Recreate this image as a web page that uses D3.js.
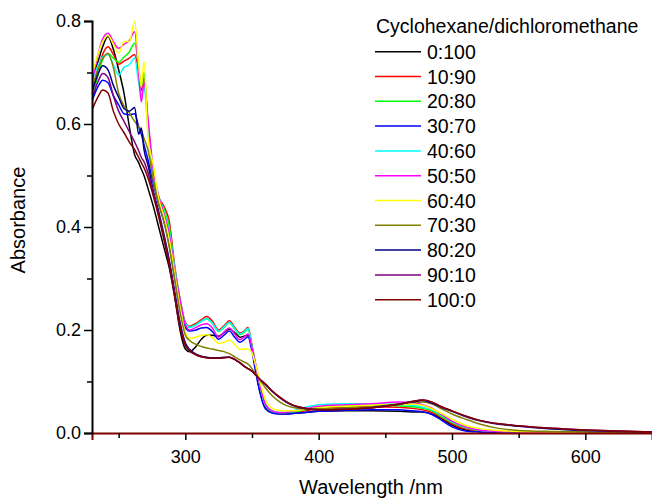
<!DOCTYPE html>
<html>
<head>
<meta charset="utf-8">
<script src="https://cdn.jsdelivr.net/npm/d3@7"></script>
<style>
  body { margin: 0; background: #fff; }
  text { font-family: "Liberation Sans", Arial, sans-serif; fill: #000; }
</style>
</head>
<body>
<div id="chart"></div>
<script>
// wavelengths (nm), shared by every series
const wavelengths = [230, 235, 238, 242, 246, 250, 254, 258, 262, 265, 267, 269, 272, 276, 280, 284, 288, 292, 296, 300,
  303, 308, 312, 316, 320, 325, 329, 333, 337, 341, 344, 347, 350, 353, 356, 360, 365, 370, 375, 380,
  390, 400, 420, 440, 460, 470, 478, 485, 492, 500, 510, 520, 535, 550, 575, 600, 625, 650];

// cyclohexane/dichloromethane ratios
const ratios = ["0:100", "10:90", "20:80", "30:70", "40:60", "50:50", "60:40", "70:30", "80:20", "90:10", "100:0"];
const colors = ["#000000", "#ff0000", "#00ff00", "#0000ff", "#00ffff", "#ff00ff", "#ffff00", "#808000", "#000080", "#800080", "#800000"];

// absorbance
const abs_0_100 = [0.690, 0.725, 0.750, 0.770, 0.745, 0.705, 0.660, 0.595, 0.540, 0.525, 0.512, 0.500, 0.475, 0.440, 0.400, 0.360, 0.320, 0.265, 0.200, 0.163,
  0.158, 0.168, 0.182, 0.190, 0.190, 0.188, 0.195, 0.202, 0.195, 0.186, 0.188, 0.190, 0.165, 0.120, 0.080, 0.050, 0.040, 0.038, 0.037, 0.038,
  0.040, 0.042, 0.043, 0.043, 0.042, 0.041, 0.041, 0.037, 0.028, 0.015, 0.006, 0.003, 0.002, 0.001, 0.001, 0.001, 0.001, 0.001];
const abs_10_90 = [0.665, 0.710, 0.735, 0.750, 0.735, 0.716, 0.722, 0.728, 0.735, 0.700, 0.665, 0.690, 0.600, 0.500, 0.458, 0.440, 0.410, 0.325, 0.260, 0.215,
  0.207, 0.213, 0.220, 0.226, 0.218, 0.200, 0.208, 0.218, 0.205, 0.194, 0.198, 0.205, 0.170, 0.130, 0.095, 0.055, 0.042, 0.038, 0.037, 0.039,
  0.043, 0.047, 0.050, 0.051, 0.050, 0.048, 0.045, 0.040, 0.030, 0.018, 0.008, 0.004, 0.002, 0.001, 0.001, 0.001, 0.001, 0.001];
const abs_20_80 = [0.640, 0.700, 0.725, 0.737, 0.728, 0.720, 0.730, 0.740, 0.757, 0.710, 0.672, 0.700, 0.600, 0.500, 0.455, 0.435, 0.400, 0.320, 0.255, 0.212,
  0.205, 0.210, 0.217, 0.222, 0.214, 0.197, 0.205, 0.214, 0.202, 0.191, 0.195, 0.202, 0.168, 0.125, 0.090, 0.053, 0.041, 0.038, 0.038, 0.040,
  0.045, 0.050, 0.053, 0.054, 0.053, 0.051, 0.048, 0.043, 0.032, 0.020, 0.010, 0.005, 0.003, 0.002, 0.001, 0.001, 0.001, 0.001];
const abs_30_70 = [0.645, 0.675, 0.685, 0.680, 0.655, 0.637, 0.620, 0.618, 0.620, 0.595, 0.580, 0.560, 0.530, 0.485, 0.445, 0.410, 0.365, 0.300, 0.240, 0.205,
  0.198, 0.200, 0.204, 0.205, 0.198, 0.182, 0.190, 0.198, 0.186, 0.176, 0.181, 0.187, 0.158, 0.115, 0.078, 0.047, 0.039, 0.037, 0.037, 0.038,
  0.040, 0.042, 0.044, 0.045, 0.045, 0.043, 0.041, 0.036, 0.025, 0.012, 0.004, 0.002, 0.001, 0.001, 0.001, 0.001, 0.001, 0.001];
const abs_40_60 = [0.685, 0.715, 0.730, 0.735, 0.715, 0.695, 0.710, 0.715, 0.728, 0.680, 0.656, 0.670, 0.590, 0.505, 0.460, 0.430, 0.390, 0.320, 0.260, 0.213,
  0.205, 0.210, 0.217, 0.222, 0.214, 0.198, 0.206, 0.215, 0.203, 0.192, 0.197, 0.203, 0.168, 0.128, 0.092, 0.055, 0.043, 0.040, 0.040, 0.043,
  0.050, 0.055, 0.057, 0.057, 0.056, 0.054, 0.050, 0.045, 0.035, 0.022, 0.011, 0.006, 0.003, 0.002, 0.001, 0.001, 0.001, 0.001];
const abs_50_50 = [0.680, 0.740, 0.765, 0.776, 0.760, 0.747, 0.755, 0.762, 0.779, 0.700, 0.643, 0.680, 0.610, 0.510, 0.460, 0.425, 0.385, 0.315, 0.260, 0.210,
  0.200, 0.205, 0.210, 0.212, 0.205, 0.186, 0.196, 0.204, 0.192, 0.181, 0.186, 0.192, 0.165, 0.128, 0.092, 0.056, 0.043, 0.040, 0.040, 0.042,
  0.047, 0.052, 0.055, 0.057, 0.060, 0.059, 0.055, 0.048, 0.036, 0.023, 0.012, 0.006, 0.003, 0.002, 0.001, 0.001, 0.001, 0.001];
const abs_60_40 = [0.695, 0.740, 0.760, 0.772, 0.755, 0.738, 0.760, 0.760, 0.799, 0.715, 0.672, 0.722, 0.575, 0.520, 0.455, 0.420, 0.375, 0.310, 0.245, 0.195,
  0.184, 0.186, 0.190, 0.191, 0.186, 0.174, 0.176, 0.180, 0.172, 0.162, 0.163, 0.163, 0.155, 0.130, 0.100, 0.065, 0.048, 0.044, 0.043, 0.043,
  0.046, 0.049, 0.052, 0.054, 0.056, 0.056, 0.054, 0.047, 0.038, 0.027, 0.015, 0.009, 0.005, 0.003, 0.002, 0.001, 0.001, 0.001];
const abs_70_30 = [0.670, 0.710, 0.727, 0.737, 0.710, 0.660, 0.635, 0.622, 0.605, 0.595, 0.588, 0.572, 0.550, 0.490, 0.445, 0.410, 0.360, 0.300, 0.235, 0.190,
  0.180, 0.172, 0.168, 0.165, 0.163, 0.160, 0.158, 0.154, 0.148, 0.142, 0.138, 0.134, 0.125, 0.113, 0.103, 0.088, 0.073, 0.062, 0.054, 0.050,
  0.047, 0.047, 0.049, 0.051, 0.056, 0.059, 0.060, 0.056, 0.047, 0.037, 0.027, 0.018, 0.009, 0.005, 0.003, 0.002, 0.001, 0.001];
const abs_80_20 = [0.660, 0.700, 0.713, 0.705, 0.675, 0.652, 0.630, 0.625, 0.632, 0.580, 0.592, 0.550, 0.520, 0.470, 0.430, 0.385, 0.335, 0.275, 0.215, 0.175,
  0.163, 0.153, 0.149, 0.147, 0.146, 0.146, 0.147, 0.147, 0.143, 0.136, 0.130, 0.125, 0.120, 0.112, 0.104, 0.094, 0.081, 0.070, 0.061, 0.054,
  0.047, 0.045, 0.046, 0.049, 0.056, 0.060, 0.063, 0.058, 0.050, 0.042, 0.032, 0.024, 0.017, 0.013, 0.008, 0.005, 0.003, 0.002];
const abs_90_10 = [0.650, 0.685, 0.698, 0.690, 0.655, 0.625, 0.605, 0.585, 0.565, 0.548, 0.535, 0.527, 0.505, 0.465, 0.425, 0.380, 0.330, 0.270, 0.210, 0.172,
  0.160, 0.152, 0.148, 0.146, 0.145, 0.145, 0.146, 0.147, 0.143, 0.136, 0.130, 0.125, 0.120, 0.112, 0.104, 0.095, 0.082, 0.071, 0.062, 0.055,
  0.048, 0.045, 0.046, 0.049, 0.056, 0.061, 0.064, 0.060, 0.051, 0.043, 0.033, 0.025, 0.018, 0.014, 0.009, 0.006, 0.004, 0.002];
const abs_100_0 = [0.627, 0.655, 0.666, 0.660, 0.625, 0.600, 0.583, 0.565, 0.550, 0.535, 0.525, 0.515, 0.495, 0.460, 0.420, 0.375, 0.325, 0.265, 0.205, 0.170,
  0.160, 0.152, 0.148, 0.146, 0.145, 0.145, 0.146, 0.147, 0.143, 0.136, 0.130, 0.125, 0.120, 0.112, 0.104, 0.095, 0.082, 0.071, 0.062, 0.055,
  0.048, 0.045, 0.046, 0.049, 0.056, 0.061, 0.064, 0.060, 0.051, 0.043, 0.033, 0.025, 0.018, 0.014, 0.009, 0.006, 0.004, 0.002];

const seriesValues = [abs_0_100, abs_10_90, abs_20_80, abs_30_70, abs_40_60, abs_50_50, abs_60_40, abs_70_30, abs_80_20, abs_90_10, abs_100_0];

const xTicks = [300, 400, 500, 600];
const xMinor = [250, 350, 450, 550];
const yTicks = [0, 0.2, 0.4, 0.6, 0.8];
const yMinor = [0.1, 0.3, 0.5, 0.7];

// dimenzije
const width = 652, height = 501;
const margin = { top: 21, right: 0, bottom: 68, left: 92 };

const svg = d3.select("#chart").append("svg")
  .attr("width", width)
  .attr("height", height);

const x = d3.scaleLinear().domain([230, 650]).range([margin.left, width - margin.right]);
const y = d3.scaleLinear().domain([0, 0.8]).range([height - margin.bottom, margin.top]);

svg.append("clipPath").attr("id", "plot")
  .append("rect")
  .attr("x", margin.left).attr("y", margin.top - 2)
  .attr("width", width - margin.left - margin.right)
  .attr("height", height - margin.top - margin.bottom + 2);

// linije
const line = d3.line()
  .x(d => x(d[0]))
  .y(d => y(d[1]))
  .curve(d3.curveMonotoneX);

svg.append("g")
  .attr("clip-path", "url(#plot)")
  .selectAll("path")
  .data(seriesValues)
  .enter().append("path")
  .attr("d", vals => line(vals.map((v, i) => [wavelengths[i], v])))
  .attr("fill", "none")
  .attr("stroke", (d, i) => colors[i])
  .attr("stroke-width", 1.5)
  .attr("stroke-linejoin", "round");

// osi
const xAxis = svg.append("g")
  .attr("transform", `translate(0,${height - margin.bottom})`)
  .call(d3.axisBottom(x).tickValues(xTicks).tickFormat(d3.format("d")).tickSize(7).tickPadding(10));
xAxis.append("g")
  .call(d3.axisBottom(x).tickValues(xMinor).tickFormat("").tickSize(5));
xAxis.selectAll(".domain").attr("stroke", "#800000").attr("stroke-width", 2);
xAxis.selectAll(".tick line").attr("stroke-width", 1.5);
xAxis.selectAll("text").style("font-size", "18px");
xAxis.selectAll("g g .domain").remove();

const yAxis = svg.append("g")
  .attr("transform", `translate(${margin.left},0)`)
  .call(d3.axisLeft(y).tickValues(yTicks).tickFormat(d3.format(".1f")).tickSize(8).tickPadding(3));
yAxis.append("g")
  .call(d3.axisLeft(y).tickValues(yMinor).tickFormat("").tickSize(5));
yAxis.selectAll(".domain").attr("stroke-width", 2);
yAxis.selectAll(".tick line").attr("stroke-width", 1.5);
yAxis.selectAll("text").style("font-size", "18px");
yAxis.selectAll("g g .domain").remove();

// naslovi osi
svg.append("text")
  .attr("x", 371)
  .attr("y", 494)
  .attr("text-anchor", "middle")
  .style("font-size", "20px")
  .text("Wavelength /nm");

svg.append("text")
  .attr("transform", "translate(25,220) rotate(-90)")
  .attr("text-anchor", "middle")
  .style("font-size", "20px")
  .text("Absorbance");

// legenda
const legend = svg.append("g");
legend.append("text")
  .attr("x", 376)
  .attr("y", 33)
  .style("font-size", "19.5px")
  .text("Cyclohexane/dichloromethane");

const items = legend.selectAll(".item")
  .data(ratios)
  .enter().append("g")
  .attr("class", "item")
  .attr("transform", (d, i) => `translate(0,${51.7 + i * 24.8})`);
items.append("line")
  .attr("x1", 375).attr("x2", 421)
  .attr("stroke", (d, i) => colors[i])
  .attr("stroke-width", 1.5);
items.append("text")
  .attr("x", 427)
  .attr("y", 7)
  .style("font-size", "19.5px")
  .text(d => d);
</script>
</body>
</html>
